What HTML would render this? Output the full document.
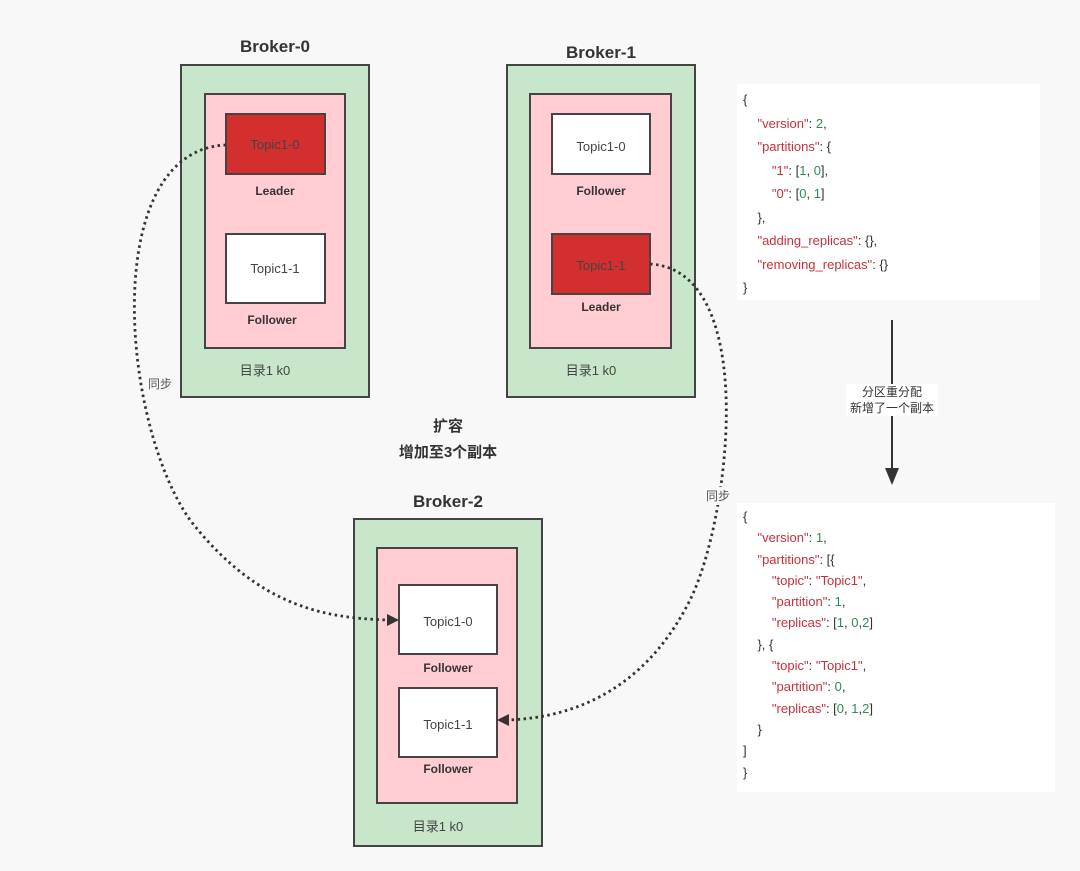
<!DOCTYPE html>
<html><head><meta charset="utf-8"><style>
body{margin:0;background:#f8f8f8;}
svg{display:block;font-family:"Liberation Sans","Noto Sans CJK SC",sans-serif;}
.code{position:absolute;background:#fff;font:13px/23.5px "Liberation Sans","Noto Sans CJK SC",sans-serif;color:#333;white-space:pre;}
.k{color:#c8303a}.n{color:#2e8b57}
</style></head><body>
<div style="position:relative;width:1080px;height:871px;overflow:hidden">
<svg width="1080" height="871" viewBox="0 0 1080 871">
<g stroke="#444" stroke-width="2">
<rect x="181" y="65" width="188" height="332" fill="#c8e6c9"/>
<rect x="205" y="94" width="140" height="254" fill="#ffcdd2"/>
<rect x="226" y="114" width="99" height="60" fill="#d32f2f"/>
<rect x="226" y="234" width="99" height="69" fill="#fff"/>
<rect x="507" y="65" width="188" height="332" fill="#c8e6c9"/>
<rect x="530" y="94" width="141" height="254" fill="#ffcdd2"/>
<rect x="552" y="114" width="98" height="60" fill="#fff"/>
<rect x="552" y="234" width="98" height="60" fill="#d32f2f"/>
<rect x="354" y="519" width="188" height="327" fill="#c8e6c9"/>
<rect x="377" y="548" width="140" height="255" fill="#ffcdd2"/>
<rect x="399" y="585" width="98" height="69" fill="#fff"/>
<rect x="399" y="688" width="98" height="69" fill="#fff"/>
</g>
<g fill="none" stroke="#333" stroke-width="2.8" stroke-dasharray="2.5,3.5">
<path d="M226,145 C100,150 120,420 190,520 C260,610 330,618 388,620"/>
<path d="M650,264 C760,270 730,520 690,600 C640,700 560,718 508,720"/>
</g>
<path d="M387,614 L399,620 L387,626z" fill="#333"/>
<path d="M509,714 L497,720 L509,726z" fill="#333"/>
<line x1="892" y1="320" x2="892" y2="470" stroke="#333" stroke-width="2"/>
<path d="M885,468 L899,468 L892,485z" fill="#333"/>
<rect x="846" y="384" width="92" height="32" fill="#fff"/>
<g font-size="12" fill="#333" text-anchor="middle">
<text x="892" y="396">分区重分配</text><text x="892" y="412">新增了一个副本</text>
</g>
<rect x="145" y="375" width="30" height="18" fill="#f8f8f8"/>
<rect x="703" y="487" width="30" height="18" fill="#f8f8f8"/>
<g font-size="12" fill="#555" text-anchor="middle">
<text x="160" y="388">同步</text><text x="718" y="500">同步</text>
</g>
<g font-size="17" font-weight="bold" fill="#333" text-anchor="middle">
<text x="275" y="52">Broker-0</text><text x="601" y="58">Broker-1</text><text x="448" y="507">Broker-2</text>
<text x="448" y="431" font-size="15">扩容</text><text x="448" y="457" font-size="15">增加至3个副本</text>
</g>
<g font-size="13" fill="#444" text-anchor="middle">
<text x="275" y="149">Topic1-0</text><text x="275" y="273">Topic1-1</text>
<text x="601" y="151">Topic1-0</text><text x="601" y="270">Topic1-1</text>
<text x="448" y="626">Topic1-0</text><text x="448" y="729">Topic1-1</text>
<text x="265" y="375">目录1 k0</text><text x="591" y="375">目录1 k0</text><text x="438" y="831">目录1 k0</text>
</g>
<g font-size="12" font-weight="bold" fill="#333" text-anchor="middle">
<text x="275" y="195">Leader</text><text x="272" y="324">Follower</text>
<text x="601" y="195">Follower</text><text x="601" y="311">Leader</text>
<text x="448" y="672">Follower</text><text x="448" y="773">Follower</text>
</g>
</svg>
<div class="code" style="left:737px;top:84px;width:297px;height:206px;padding:4px 0 6px 6px">{
    <span class="k">"version"</span>: <span class="n">2</span>,
    <span class="k">"partitions"</span>: {
        <span class="k">"1"</span>: [<span class="n">1</span>, <span class="n">0</span>],
        <span class="k">"0"</span>: [<span class="n">0</span>, <span class="n">1</span>]
    },
    <span class="k">"adding_replicas"</span>: {},
    <span class="k">"removing_replicas"</span>: {}
}</div>
<div class="code" style="left:737px;top:503px;width:312px;height:279px;padding:3px 0 7px 6px;line-height:21.3px">{
    <span class="k">"version"</span>: <span class="n">1</span>,
    <span class="k">"partitions"</span>: [{
        <span class="k">"topic"</span>: <span class="k">"Topic1"</span>,
        <span class="k">"partition"</span>: <span class="n">1</span>,
        <span class="k">"replicas"</span>: [<span class="n">1</span>, <span class="n">0</span>,<span class="n">2</span>]
    }, {
        <span class="k">"topic"</span>: <span class="k">"Topic1"</span>,
        <span class="k">"partition"</span>: <span class="n">0</span>,
        <span class="k">"replicas"</span>: [<span class="n">0</span>, <span class="n">1</span>,<span class="n">2</span>]
    }
]
}</div>
</div>
</body></html>
